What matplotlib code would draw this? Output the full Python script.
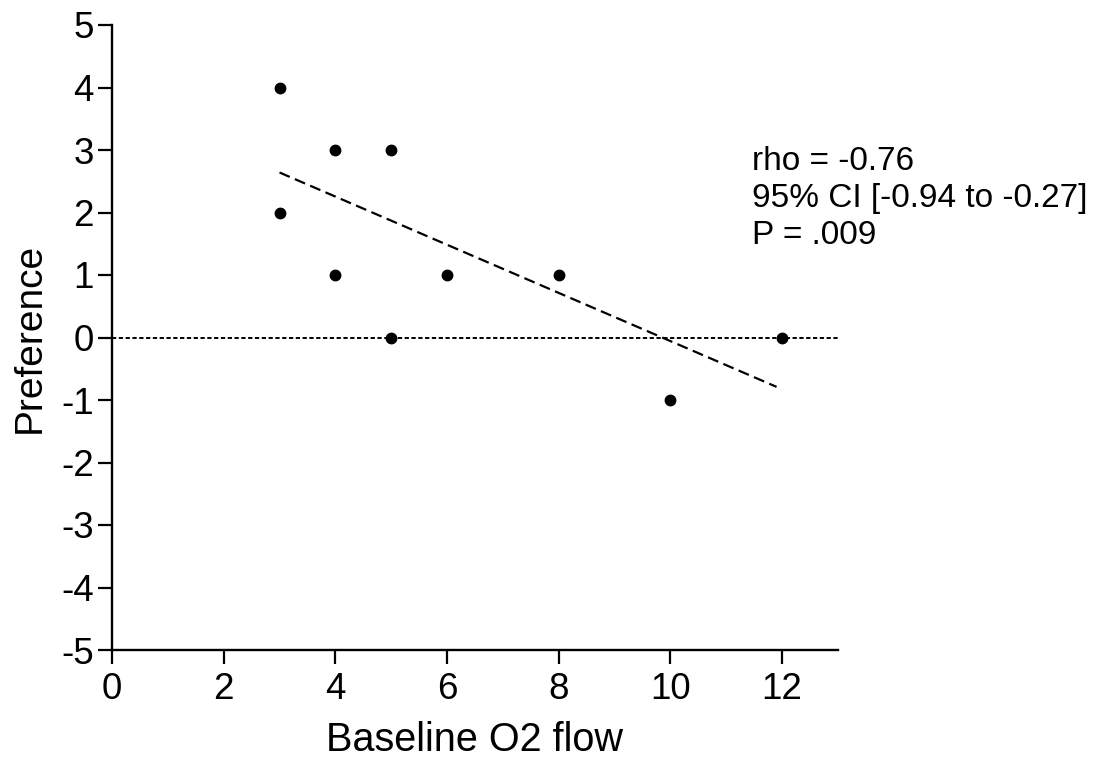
import matplotlib
matplotlib.use("Agg")
import matplotlib.pyplot as plt

# Data
baseline_o2 = [3, 3, 4, 4, 5, 5, 6, 8, 10, 12]
preference = [4, 2, 3, 1, 3, 0, 1, 1, -1, 0]
fit_x = [3, 11.9]
fit_y = [2.64, -0.79]
ref_y = 0
x_ticks = [0, 2, 4, 6, 8, 10, 12]
y_ticks = [-5, -4, -3, -2, -1, 0, 1, 2, 3, 4, 5]
stats_text = "rho = -0.76\n95% CI [-0.94 to -0.27]\nP = .009"

plt.rcParams['font.family'] = ['Liberation Sans', 'DejaVu Sans']
plt.rcParams['axes.unicode_minus'] = False

fig = plt.figure(figsize=(11.05, 7.58), dpi=100)
ax = fig.add_axes([112/1105, 108/758, (838-112)/1105, (650-25)/758])

ax.axhline(ref_y, color='black', lw=1.4, linestyle=(0, (2.2, 1.3)), zorder=1)
ax.plot(fit_x, fit_y, color='black', lw=1.6, linestyle=(0, (5, 2.5)), zorder=2)
ax.plot(baseline_o2, preference, 'o', color='black', markersize=7.5, zorder=3)

ax.set_xlim(0, 13)
ax.set_ylim(-5, 5)
ax.set_xticks(x_ticks)
ax.set_yticks(y_ticks)
ax.tick_params(labelsize=26.5, width=1.6, length=10, direction='out')
ax.tick_params(axis='x', pad=6)
ax.tick_params(axis='y', pad=3)
for s in ['top', 'right']:
    ax.spines[s].set_visible(False)
for s in ['left', 'bottom']:
    ax.spines[s].set_linewidth(1.7)

ax.set_xlabel('Baseline O2 flow', fontsize=28.5, labelpad=10)
ax.set_ylabel('Preference', fontsize=28, labelpad=10)

fig.text(752/1105, 1 - 146/758, stats_text, fontsize=24, va='top', ha='left',
         linespacing=1.24)

fig.savefig('out.png', dpi=100)
